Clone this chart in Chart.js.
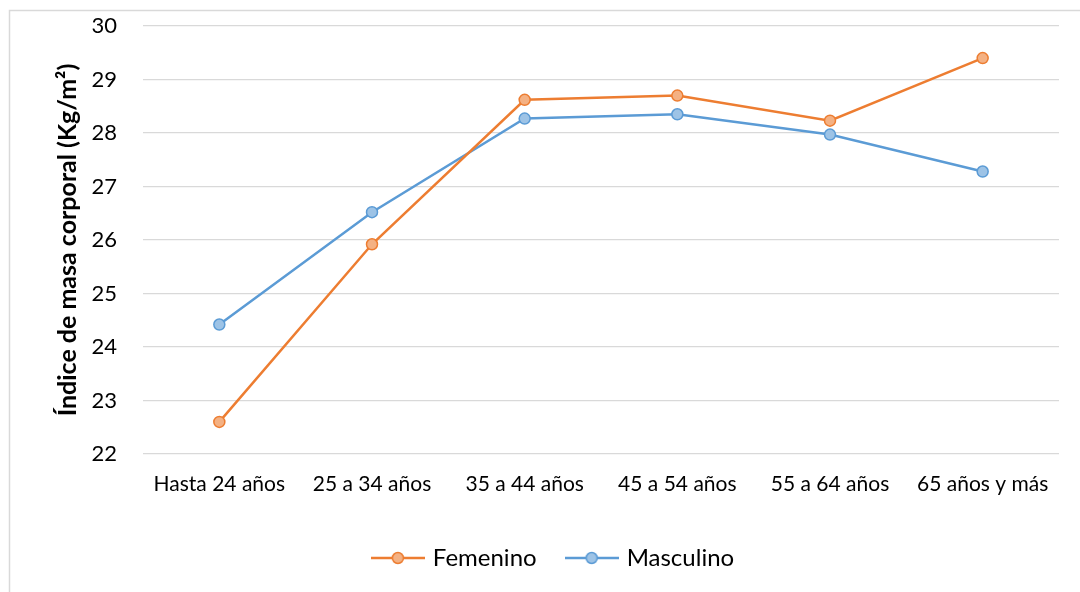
<!DOCTYPE html>
<html>
<head>
<meta charset="utf-8">
<script src="https://cdn.jsdelivr.net/npm/chart.js@4.4.0/dist/chart.umd.min.js"></script>
<style>
  body { margin: 0; background: #fff; }
  canvas { display: block; }
</style>
</head>
<body>
<canvas id="imcChart" width="1080" height="592"></canvas>
<script>
// Data
const categories = ["Hasta 24 años", "25 a 34 años", "35 a 44 años", "45 a 54 años", "55 a 64 años", "65 años y más"];
const femenino = [22.6, 25.92, 28.62, 28.7, 28.23, 29.4];
const masculino = [24.42, 26.52, 28.27, 28.35, 27.97, 27.28];
const yTicks = [22, 23, 24, 25, 26, 27, 28, 29, 30];

const FONT = "Lato, 'Open Sans', sans-serif";

// little line + circle swatch for the legend
function legendSwatch(line, fill) {
  const c = document.createElement("canvas");
  c.width = 54;
  c.height = 16;
  const g = c.getContext("2d");
  g.strokeStyle = line;
  g.lineWidth = 2.5;
  g.beginPath();
  g.moveTo(0, 8);
  g.lineTo(54, 8);
  g.stroke();
  g.beginPath();
  g.arc(27, 8, 5.5, 0, Math.PI * 2);
  g.fillStyle = fill;
  g.fill();
  g.lineWidth = 1.5;
  g.stroke();
  return c;
}
const swatches = [legendSwatch("#ED7D31", "#F4B183"), legendSwatch("#5B9BD5", "#9DC3E6")];

// thin frame on the left and top like the original
const framePlugin = {
  id: "frame",
  beforeDraw(chart) {
    const ctx = chart.ctx;
    ctx.save();
    ctx.strokeStyle = "#d9d9d9";
    ctx.lineWidth = 1.5;
    ctx.beginPath();
    ctx.moveTo(9.5, 592);
    ctx.lineTo(9.5, 10.5);
    ctx.lineTo(1080, 10.5);
    ctx.stroke();
    ctx.restore();
  }
};

new Chart(document.getElementById("imcChart"), {
  type: "line",
  data: {
    labels: categories,
    datasets: [
      {
        label: "Femenino",
        data: femenino,
        borderColor: "#ED7D31",
        backgroundColor: "#F4B183",
        pointBackgroundColor: "#F4B183",
        pointBorderColor: "#ED7D31",
        borderWidth: 2.5,
        pointRadius: 5.5,
        pointBorderWidth: 1.5,
        tension: 0,
      },
      {
        label: "Masculino",
        data: masculino,
        borderColor: "#5B9BD5",
        backgroundColor: "#9DC3E6",
        pointBackgroundColor: "#9DC3E6",
        pointBorderColor: "#5B9BD5",
        borderWidth: 2.5,
        pointRadius: 5.5,
        pointBorderWidth: 1.5,
        tension: 0,
      },
    ],
  },
  options: {
    responsive: false,
    animation: false,
    layout: { padding: { left: 50, right: 21, top: 26, bottom: 12 } },
    scales: {
      x: {
        offset: true,
        grid: { display: false, drawTicks: false },
        border: { display: false },
        ticks: { color: "#000", padding: 18, maxRotation: 0, font: { family: FONT, size: 21 } },
        afterFit(scale) { scale.height = 60; },
      },
      y: {
        min: 22,
        max: 30,
        afterBuildTicks(scale) { scale.ticks = yTicks.map(v => ({ value: v })); },
        grid: { color: "#d9d9d9", lineWidth: 1.3, drawTicks: false },
        border: { display: false },
        ticks: { color: "#000", padding: 26, font: { family: FONT, size: 22 } },
        title: {
          display: true,
          text: "Índice de masa corporal (Kg/m²)",
          color: "#000",
          font: { family: FONT, size: 25, weight: "bold" },
          padding: { top: 3, bottom: 0 },
        },
        afterFit(scale) {
          scale.width = 93;
          scale.paddingTop = 0;
          scale.paddingBottom = 0;
        },
      },
    },
    plugins: {
      legend: {
        position: "bottom",
        labels: {
          usePointStyle: true,
          pointStyleWidth: 46,
          padding: 32,
          color: "#000",
          font: { family: FONT, size: 24 },
          generateLabels(chart) {
            return chart.data.datasets.map((ds, i) => ({
              text: ds.label,
              pointStyle: swatches[i],
              fontColor: "#000",
              strokeStyle: ds.borderColor,
              fillStyle: ds.backgroundColor,
              lineWidth: 0,
              hidden: false,
              datasetIndex: i,
            }));
          },
        },
      },
      tooltip: { enabled: false },
    },
  },
  plugins: [framePlugin],
});
</script>
</body>
</html>
